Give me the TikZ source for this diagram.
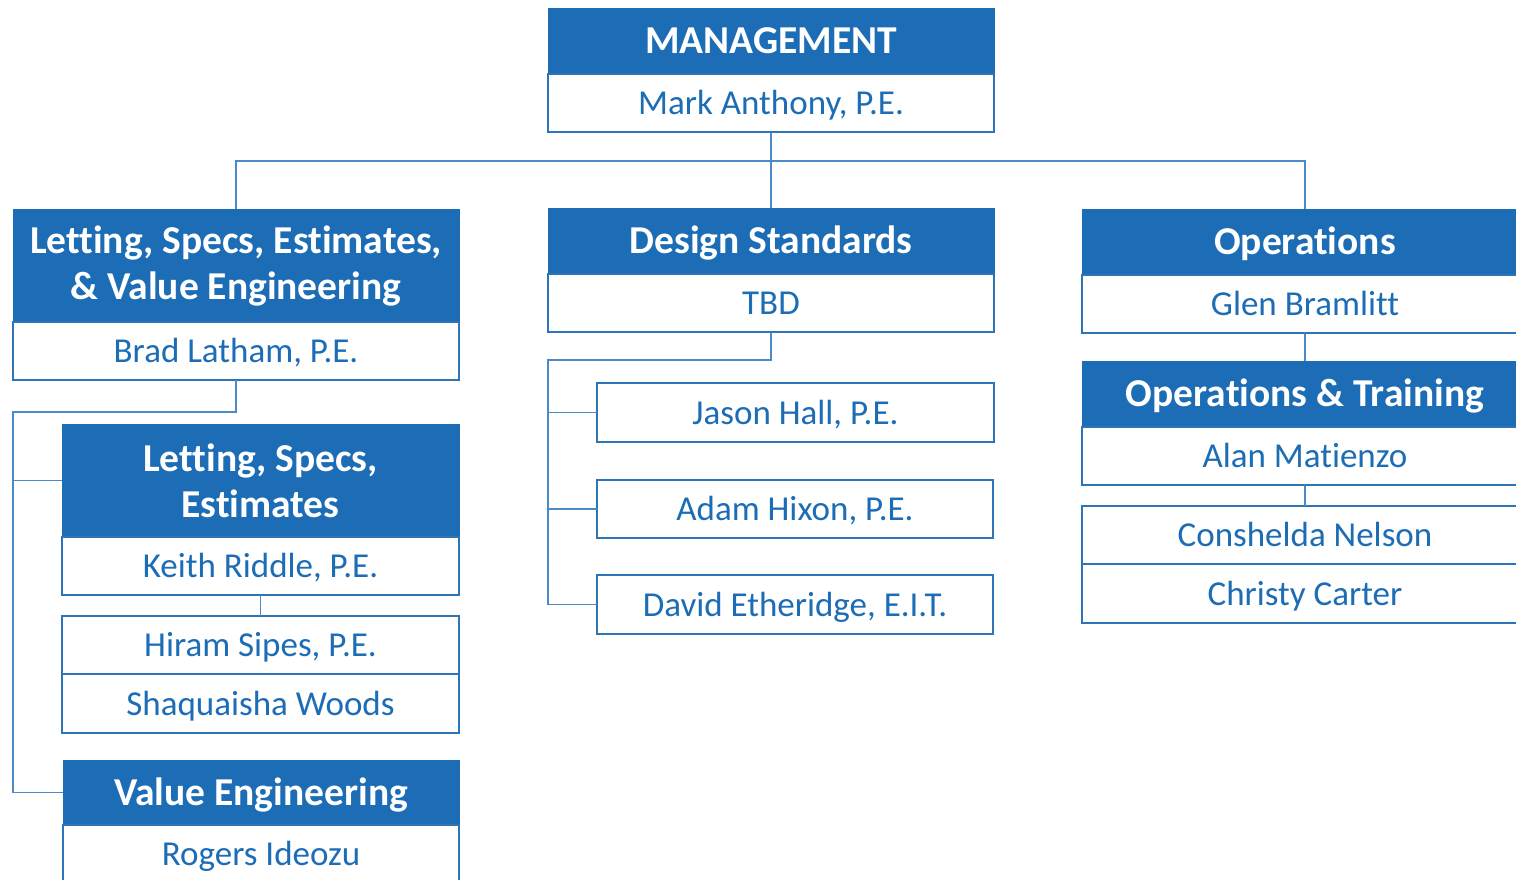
\documentclass[tikz,border=0pt]{standalone}
\usepackage{fontspec}
\setmainfont{Carlito}[Ligatures=NoCommon]
\usetikzlibrary{positioning}

\definecolor{orgblue}{HTML}{1C6DB5}
\definecolor{boxline}{HTML}{2E75B6}
\definecolor{linkblue}{HTML}{4A8AC8}

\newcommand{\headfont}{\fontsize{39.5pt}{46pt}\selectfont\bfseries}
\newcommand{\namefont}{\fontsize{35pt}{40pt}\selectfont}

\tikzset{
  unit/.style={inner sep=0pt, outer sep=0pt, align=center, minimum width=446pt},
  head/.style={unit, fill=orgblue, draw=orgblue, line width=1pt, text=white, font=\headfont, minimum height=66pt},
  headone/.style={head, text height=25pt, text depth=0pt},
  who/.style={unit, draw=boxline, line width=1.4pt, fill=white, text=orgblue, font=\namefont,
    minimum height=58pt, text height=23.5pt, text depth=0pt},
  link/.style={draw=linkblue, line width=1.1pt}
}

\begin{document}
\begin{tikzpicture}[x=1pt,y=-1pt]
	\useasboundingbox (0,0) rectangle (1516,879);
	\clip (0,0) rectangle (1516,879);

	% top
	\node[headone] (mgmt) at (771,41) {MANAGEMENT};
	\node[who,below=0pt of mgmt] (mgmtname) {Mark Anthony, P.E.};

	% left branch
	\node[head,minimum height=113pt] (lsve) at (236,265.5) {Letting, Specs, Estimates,\\ \& Value Engineering};
	\node[who,below=0pt of lsve] (lsvename) {Brad Latham, P.E.};
	\node[head,minimum height=113pt,minimum width=397pt] (lse) at (260.5,480.5) {Letting, Specs,\\ Estimates};
	\node[who,minimum width=397pt,below=0pt of lse] (lsename) {Keith Riddle, P.E.};
	\node[who,minimum width=397pt] (hiram) at (260.5,645) {Hiram Sipes, P.E.};
	\node[who,minimum width=397pt,minimum height=59pt,below=0pt of hiram] (shaq) {Shaquaisha Woods};
	\node[headone,minimum height=65pt,minimum width=396pt] (ve) at (261,792.5) {Value Engineering};
	\node[who,minimum width=396pt,below=0pt of ve] (vename) {Rogers Ideozu};

	% middle branch
	\node[headone] (ds) at (771,241) {Design Standards};
	\node[who,below=0pt of ds] (dsname) {TBD};
	\node[who,minimum width=397pt,minimum height=59pt] (jason) at (795.5,412.5) {Jason Hall, P.E.};
	\node[who,minimum width=396pt] (adam) at (795,509) {Adam Hixon, P.E.};
	\node[who,minimum width=396pt,minimum height=59pt] (david) at (795,604.5) {David Etheridge, E.I.T.};

	% right branch
	\node[headone] (ops) at (1305,242) {Operations};
	\node[who,below=0pt of ops] (opsname) {Glen Bramlitt};
	\node[headone] (opt) at (1305,394) {Operations \& Training};
	\node[who,below=0pt of opt] (optname) {Alan Matienzo};
	\node[who] (consh) at (1305,535) {Conshelda Nelson};
	\node[who,minimum height=59pt,below=0pt of consh] (christy) {Christy Carter};

	% connectors
	\coordinate (lspine) at (13,412);
	\coordinate (mspine) at (548,360);
	\draw[link] (mgmtname.south) -- (ds.north);
	\draw[link] (lsve.north) -- ++(0,-48) -| (ops.north);
	\draw[link] (lsvename.south) |- (lspine) |- (ve.west);
	\draw[link] (lspine) |- (lse.west);
	\draw[link] (lsename.south) -- (hiram.north);
	\draw[link] (dsname.south) |- (mspine) |- (david.west);
	\draw[link] (mspine) |- (jason.west);
	\draw[link] (mspine) |- (adam.west);
	\draw[link] (opsname.south) -- (opt.north);
	\draw[link] (optname.south) -- (consh.north);
\end{tikzpicture}
\end{document}
